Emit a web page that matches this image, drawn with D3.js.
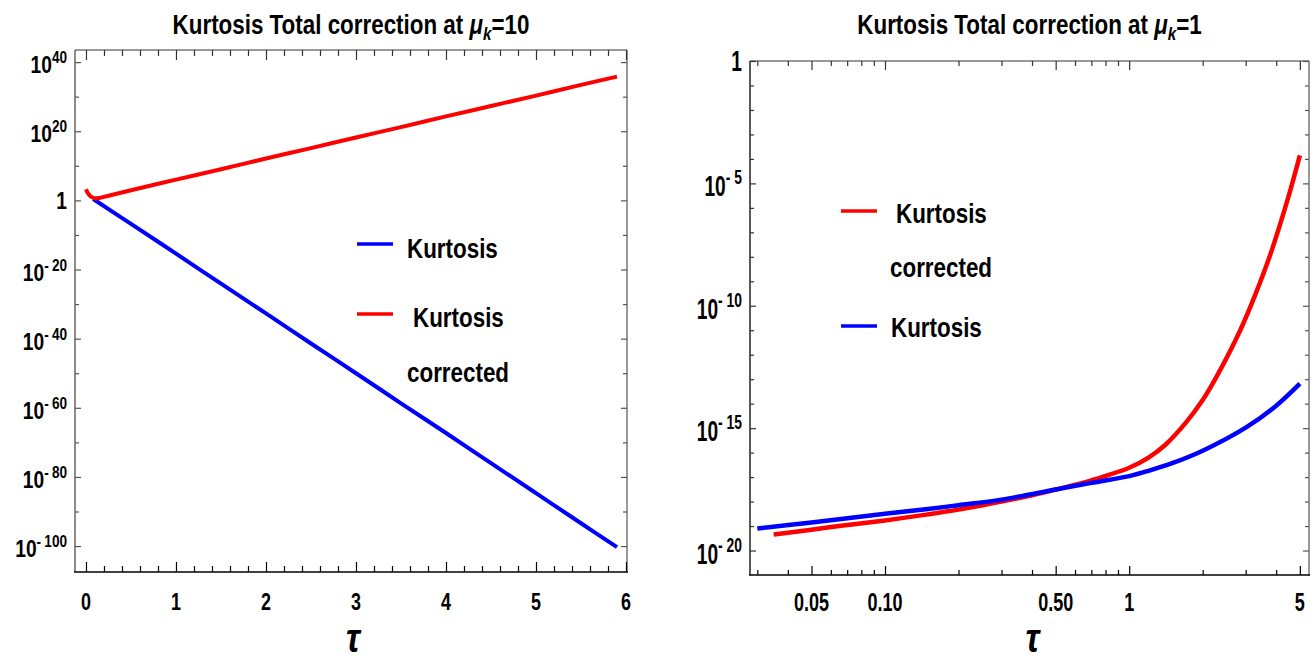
<!DOCTYPE html>
<html>
<head>
<meta charset="utf-8">
<script src="https://cdn.jsdelivr.net/npm/d3@7"></script>
<style>
  html, body { margin: 0; padding: 0; background: #fff; }
  svg text { font-family: "Liberation Sans", Arial, sans-serif; font-weight: bold; fill: #000; }
</style>
</head>
<body>
<svg id="chart" width="1314" height="662"></svg>
<script>
// ---- μk = 10 : kurtosis and corrected kurtosis versus τ (linear τ, log values)
const tauCorrected10 = [0, 0.01, 0.03, 0.06, 0.1, 0.15, 0.25, 0.5, 1, 1.5, 2, 2.5, 3, 3.5, 4, 4.5, 5, 5.5, 5.9];
const kurtosisCorrected10 = [1.6e3, 4.0e2, 63, 10, 4.2, 5.2, 22, 8.3e2, 1.0e6, 1.0e9, 1.3e12, 1.3e15, 1.6e18, 1.6e21, 2.0e24, 2.0e27, 2.0e30, 2.5e33, 6.3e35];
const tauKurtosis10 = [0.08, 0.5, 1, 1.5, 2, 2.5, 3, 3.5, 4, 4.5, 5, 5.5, 5.9];
const kurtosis10 = [2.5, 1.6e-7, 4.0e-16, 8.0e-25, 2.0e-33, 4.0e-42, 1.0e-50, 2.0e-59, 5.0e-68, 1.0e-76, 2.0e-85, 4.0e-94, 5.0e-101];

// ---- μk = 1 : same quantities on log–log axes
const tauCorrected1 = [0.035, 0.05, 0.07, 0.1, 0.15, 0.2, 0.3, 0.4, 0.5, 0.7, 1, 1.2, 1.4, 1.7, 2, 2.25, 2.85, 3.3, 3.8, 4.45, 5];
const kurtosisCorrected1 = [4.5e-20, 7.1e-20, 1.1e-19, 1.7e-19, 3.0e-19, 4.7e-19, 1.0e-18, 1.8e-18, 3.1e-18, 7.4e-18, 2.4e-17, 6.3e-17, 2.0e-16, 1.6e-15, 1.4e-14, 1.0e-13, 1.0e-11, 3.2e-10, 1.4e-8, 2.1e-6, 1.4e-4];
const tauKurtosis1 = [0.03, 0.05, 0.1, 0.15, 0.2, 0.3, 0.5, 0.7, 1, 1.2, 1.5, 2, 3, 4, 5];
const kurtosis1 = [7.9e-20, 1.4e-19, 3.2e-19, 5.0e-19, 7.1e-19, 1.2e-18, 3.1e-18, 5.8e-18, 1.1e-17, 1.8e-17, 3.7e-17, 1.2e-16, 1.05e-15, 8.3e-15, 6.6e-14];

// ---- tick values and labels
const xTicks10 = [0, 1, 2, 3, 4, 5, 6];
const xMinor10 = d3.range(0, 30).map(i => i * 0.2).filter(v => Math.abs(v - Math.round(v)) > 1e-9);
const yExpMajor10 = [40, 20, 0, -20, -40, -60, -80, -100];
const yExpMinor10 = [30, 10, -10, -30, -50, -70, -90];

const xTicks1 = [0.05, 0.1, 0.5, 1, 5];
const xTickLabels1 = ["0.05", "0.10", "0.50", "1", "5"];
const xMinor1 = [0.03, 0.04, 0.06, 0.07, 0.08, 0.09, 0.2, 0.3, 0.4, 0.6, 0.7, 0.8, 0.9, 2, 3, 4];
const yExpMajor1 = [0, -5, -10, -15, -20];
const yExpMinor1 = d3.range(-1, -21, -1).filter(e => e % 5 !== 0);

const BLUE = "#0000ff", RED = "#ff0000";
const svg = d3.select("#chart");

// text helper: condensed bold glyphs via horizontal scaling
function txt(g, x, y, anchor, size, sx, str, italic) {
  return g.append("text")
    .attr("transform", `translate(${x},${y}) scale(${sx},1)`)
    .attr("text-anchor", anchor)
    .attr("font-size", size)
    .attr("font-style", italic ? "italic" : null)
    .text(str);
}

function powLabel(g, x, y, exp, o) {
  const t = g.append("text")
    .attr("transform", `translate(${x},${y}) scale(${o.sx},1)`)
    .attr("text-anchor", "end");
  if (exp === 0) {
    t.append("tspan").attr("font-size", o.base).attr("dy", o.plainDy).text("1");
    return;
  }
  t.append("tspan").attr("font-size", o.base).attr("dy", o.baseDy).text("10");
  if (exp < 0) {
    t.append("tspan").attr("font-size", o.sup).attr("dy", -o.rise).text("-");
    t.append("tspan").attr("font-size", o.sup).attr("dx", o.gap).text(String(-exp));
  } else {
    t.append("tspan").attr("font-size", o.sup).attr("dy", -o.rise).text(String(exp));
  }
}

function title(g, cx, y, value) {
  const t = g.append("text")
    .attr("transform", `translate(${cx},${y}) scale(0.8,1)`)
    .attr("text-anchor", "middle")
    .attr("font-size", 28);
  t.append("tspan").text("Kurtosis Total correction at ");
  t.append("tspan").attr("font-style", "italic").text("μ");
  t.append("tspan").attr("font-style", "italic").attr("font-size", 19).attr("dy", 6).text("k");
  t.append("tspan").attr("dy", -6).text("=" + value);
}

function frame(g, x0, x1, y0, y1, leftColor) {
  const f = g.append("g").attr("fill", "none").attr("stroke-width", 1.5);
  f.append("line").attr("x1", x0).attr("x2", x1).attr("y1", y0).attr("y2", y0).attr("stroke", "#777");
  f.append("line").attr("x1", x1).attr("x2", x1).attr("y1", y0).attr("y2", y1).attr("stroke", "#777");
  f.append("line").attr("x1", x0).attr("x2", x0).attr("y1", y0).attr("y2", y1).attr("stroke", leftColor);
  f.append("line").attr("x1", x0 - 1).attr("x2", x1 + 1).attr("y1", y1).attr("y2", y1).attr("stroke", "#000");
}

function ticks(g, scale, vals, orient, pos, len, color) {
  const axis = (orient === "bottom" ? d3.axisBottom : orient === "top" ? d3.axisTop :
                orient === "left" ? d3.axisLeft : d3.axisRight)(scale)
    .tickValues(vals).tickSize(-len).tickFormat("");
  const ag = g.append("g")
    .attr("transform", orient === "bottom" || orient === "top" ? `translate(0,${pos})` : `translate(${pos},0)`)
    .call(axis);
  ag.select(".domain").remove();
  ag.selectAll(".tick line").attr("stroke", color).attr("stroke-width", 1.2);
}

function legend(g, items) {
  items.forEach(it => {
    if (it.line) {
      g.append("line").attr("x1", it.x1).attr("x2", it.x2).attr("y1", it.ly).attr("y2", it.ly)
        .attr("stroke", it.line).attr("stroke-width", 3.5);
    }
    txt(g, it.tx, it.ty, "start", 28, 0.8, it.text);
  });
}

const curve = d3.curveCatmullRom.alpha(0.5);

// ================= panel 1 : μk = 10 =================
{
  const L = 75, R = 627, T = 50, B = 572;
  const g = svg.append("g");
  const x = d3.scaleLinear().domain([-0.122, 6.011]).range([L, R]);
  const y = d3.scaleLog().domain([Math.pow(10, 43.5), Math.pow(10, -107.5)]).range([T, B]);

  g.append("clipPath").attr("id", "clipA").append("rect")
    .attr("x", L).attr("y", T).attr("width", R - L).attr("height", B - T);

  const line = d3.line().x(d => x(d[0])).y(d => y(d[1])).curve(curve);
  const plot = g.append("g").attr("clip-path", "url(#clipA)");
  plot.append("path").datum(d3.zip(tauKurtosis10, kurtosis10)).attr("d", line)
    .attr("fill", "none").attr("stroke", BLUE).attr("stroke-width", 4);
  plot.append("path").datum(d3.zip(tauCorrected10, kurtosisCorrected10)).attr("d", line)
    .attr("fill", "none").attr("stroke", RED).attr("stroke-width", 4);

  frame(g, L, R, T, B, "#666");
  const yMaj = yExpMajor10.map(e => Math.pow(10, e));
  const yMin = yExpMinor10.map(e => Math.pow(10, e));
  ticks(g, x, xTicks10, "bottom", B, 10, "#000");
  ticks(g, x, xMinor10, "bottom", B, 6, "#000");
  ticks(g, x, xTicks10, "top", T, 10, "#333");
  ticks(g, x, xMinor10, "top", T, 6, "#333");
  ticks(g, y, yMaj, "left", L, 6, "#555");
  ticks(g, y, yMin, "left", L, 4, "#555");
  ticks(g, y, yMaj, "right", R, 6, "#555");
  ticks(g, y, yMin, "right", R, 4, "#555");

  xTicks10.forEach(v => txt(g, x(v), 610, "middle", 23, 0.78, String(v)));
  yExpMajor10.forEach(e => powLabel(g, 67, y(Math.pow(10, e)), e,
    { sx: 0.8, base: 24, sup: 17, baseDy: 11, plainDy: 9, rise: 10, gap: 4 }));

  txt(g, (L + R) / 2 + 2, 652, "middle", 40, 0.85, "τ", true);
  title(g, (L + R) / 2, 34, "10");

  legend(g, [
    { line: BLUE, x1: 357, x2: 393, ly: 244, tx: 407, ty: 258, text: "Kurtosis" },
    { line: RED, x1: 357, x2: 393, ly: 314, tx: 413, ty: 327, text: "Kurtosis" },
    { tx: 407, ty: 382, text: "corrected" }
  ]);
}

// ================= panel 2 : μk = 1 =================
{
  const L = 750, R = 1309, T = 61, B = 575;
  const g = svg.append("g");
  const x = d3.scaleLog().domain([0.028, 5.45]).range([L, R]);
  const y = d3.scaleLog().domain([1, 1e-21]).range([T, B]);

  g.append("clipPath").attr("id", "clipB").append("rect")
    .attr("x", L).attr("y", T).attr("width", R - L).attr("height", B - T);

  const line = d3.line().x(d => x(d[0])).y(d => y(d[1])).curve(curve);
  const plot = g.append("g").attr("clip-path", "url(#clipB)");
  plot.append("path").datum(d3.zip(tauCorrected1, kurtosisCorrected1)).attr("d", line)
    .attr("fill", "none").attr("stroke", RED).attr("stroke-width", 4.5);
  plot.append("path").datum(d3.zip(tauKurtosis1, kurtosis1)).attr("d", line)
    .attr("fill", "none").attr("stroke", BLUE).attr("stroke-width", 4.5);

  frame(g, L, R, T, B, "#222");
  const yMaj = yExpMajor1.map(e => Math.pow(10, e));
  const yMin = yExpMinor1.map(e => Math.pow(10, e));
  ticks(g, x, xTicks1, "bottom", B, 9, "#000");
  ticks(g, x, xMinor1, "bottom", B, 5, "#000");
  ticks(g, x, xTicks1, "top", T, 9, "#333");
  ticks(g, x, xMinor1, "top", T, 5, "#333");
  ticks(g, y, yMaj, "left", L, 6, "#333");
  ticks(g, y, yMin, "left", L, 4, "#333");
  ticks(g, y, yMaj, "right", R, 6, "#555");
  ticks(g, y, yMin, "right", R, 4, "#555");

  xTicks1.forEach((v, i) => txt(g, x(v), 611, "middle", 25, 0.72, xTickLabels1[i]));
  yExpMajor1.forEach(e => powLabel(g, 742, y(Math.pow(10, e)), e,
    { sx: 0.66, base: 29, sup: 21, baseDy: 13, plainDy: 10, rise: 12, gap: 6 }));

  txt(g, (L + R) / 2 + 3, 652, "middle", 40, 0.85, "τ", true);
  title(g, (L + R) / 2, 34, "1");

  legend(g, [
    { line: RED, x1: 841, x2: 877, ly: 211, tx: 896, ty: 223, text: "Kurtosis" },
    { tx: 890, ty: 277, text: "corrected" },
    { line: BLUE, x1: 841, x2: 877, ly: 326, tx: 891, ty: 337, text: "Kurtosis" }
  ]);
}
</script>
</body>
</html>
